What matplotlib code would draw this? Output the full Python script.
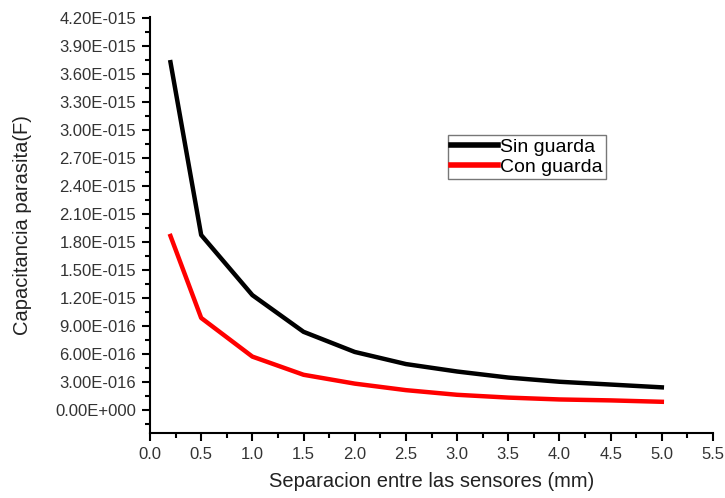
import matplotlib
matplotlib.use('Agg')
import matplotlib.pyplot as plt
from matplotlib.ticker import AutoMinorLocator, FixedLocator
import math

plt.rcParams['font.family'] = ['Liberation Sans', 'DejaVu Sans']

separacion = [0.2, 0.5, 1.0, 1.5, 2.0, 2.5, 3.0, 3.5, 4.0, 4.5, 5.0]
sin_guarda = [3.73e-15, 1.875e-15, 1.23e-15, 0.836e-15, 0.62e-15, 0.49e-15,
              0.41e-15, 0.345e-15, 0.30e-15, 0.27e-15, 0.24e-15]
con_guarda = [1.865e-15, 0.985e-15, 0.57e-15, 0.375e-15, 0.28e-15, 0.21e-15,
              0.16e-15, 0.13e-15, 0.11e-15, 0.10e-15, 0.085e-15]

x_ticks = [0.0, 0.5, 1.0, 1.5, 2.0, 2.5, 3.0, 3.5, 4.0, 4.5, 5.0, 5.5]
y_ticks = [i * 0.3e-15 for i in range(15)]


def sci_fmt(v):
    if abs(v) < 1e-30:
        return "0.00E+000"
    e = int(math.floor(math.log10(abs(v)) + 1e-9))
    m = v / 10**e
    return "%.2fE%s%03d" % (m, '-' if e < 0 else '+', abs(e))


fig = plt.figure(figsize=(7.25, 4.98), dpi=100)
ax = fig.add_axes([150/725, 65/498, 563/725, 416/498])

ax.plot(separacion, sin_guarda, color='black', lw=3.2, label='Sin guarda')
ax.plot(separacion, con_guarda, color='#ff0000', lw=3.2, label='Con guarda')

ax.set_xlim(0, 5.5)
ax.set_ylim(-0.25e-15, 4.215e-15)
ax.set_xticks(x_ticks, ["%.1f" % v for v in x_ticks])
ax.set_yticks(y_ticks, [sci_fmt(v) for v in y_ticks])
ax.xaxis.set_minor_locator(FixedLocator([v + 0.25 for v in x_ticks[:-1]]))
ax.yaxis.set_minor_locator(FixedLocator([v - 0.15e-15 for v in y_ticks]))

for s in ['top', 'right']:
    ax.spines[s].set_visible(False)
for s in ['left', 'bottom']:
    ax.spines[s].set_linewidth(1.5)
ax.tick_params(which='major', direction='out', length=6, width=1.5,
               labelsize=12, colors='black', labelcolor='#333333', pad=4)
ax.tick_params(which='minor', direction='out', length=3.5, width=1.5)

ax.set_xlabel('Separacion entre las sensores (mm)', fontsize=14.5, labelpad=7,
              color='#222222')
ax.set_ylabel('Capacitancia parasita(F)', fontsize=14.5, labelpad=17,
              color='#222222')

leg = ax.legend(loc='upper left', bbox_to_anchor=(298/563, 1 - 118/416),
                fontsize=14, frameon=True, fancybox=False, handlelength=2.4,
                handletextpad=0.15, borderpad=0.15, labelspacing=0.15,
                borderaxespad=0)
leg.get_frame().set_edgecolor('#555555')
leg.get_frame().set_linewidth(1.0)
for h in leg.get_lines():
    h.set_linewidth(4)

fig.savefig('out.png', dpi=100)
